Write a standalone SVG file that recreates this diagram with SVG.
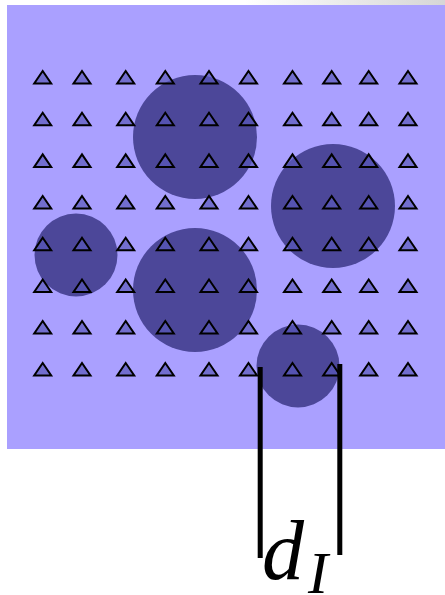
<svg xmlns="http://www.w3.org/2000/svg" xmlns:xlink="http://www.w3.org/1999/xlink" width="445" height="595" viewBox="0 0 445 595">
<defs>
<linearGradient id="topg" x1="0" y1="0" x2="1" y2="0">
<stop offset="0" stop-color="#ffffff"/>
<stop offset="0.55" stop-color="#ffffff"/>
<stop offset="1" stop-color="#d6d6d6"/>
</linearGradient>
<path id="tri" d="M0,0 L8.5,12.5 L-8.5,12.5 Z"/>
</defs>
<style>
.circ{fill:#4c4799}
.t use{fill:rgba(90,88,186,0.7);stroke:#000;stroke-width:2;stroke-linejoin:miter}
.bar{fill:#000}
.lab{font-family:"Liberation Serif","Times New Roman",serif;font-style:italic;fill:#000}
</style>
<rect x="0" y="0" width="445" height="595" fill="#ffffff"/>
<rect x="0" y="0" width="445" height="5" fill="url(#topg)"/>
<rect id="field" x="7" y="5" width="438" height="444" fill="#aaa0ff"/>
<g id="circles">
<circle id="c1" class="circ" cx="195" cy="137" r="62"/>
<circle id="c2" class="circ" cx="333" cy="206" r="62"/>
<circle id="c3" class="circ" cx="76" cy="255" r="41.5"/>
<circle id="c4" class="circ" cx="195" cy="290" r="62"/>
<circle id="c5" class="circ" cx="298" cy="366" r="41.5"/>
</g>
<g id="triangles" class="t">
<g id="row1" transform="translate(0,71)">
<use xlink:href="#tri" x="42.7"/><use xlink:href="#tri" x="82"/><use xlink:href="#tri" x="125.7"/><use xlink:href="#tri" x="165.3"/><use xlink:href="#tri" x="209"/><use xlink:href="#tri" x="248.5"/><use xlink:href="#tri" x="292.5"/><use xlink:href="#tri" x="331.7"/><use xlink:href="#tri" x="368.7"/><use xlink:href="#tri" x="408"/>
</g>
<g id="row2" transform="translate(0,112.7)">
<use xlink:href="#tri" x="42.7"/><use xlink:href="#tri" x="82"/><use xlink:href="#tri" x="125.7"/><use xlink:href="#tri" x="165.3"/><use xlink:href="#tri" x="209"/><use xlink:href="#tri" x="248.5"/><use xlink:href="#tri" x="292.5"/><use xlink:href="#tri" x="331.7"/><use xlink:href="#tri" x="368.7"/><use xlink:href="#tri" x="408"/>
</g>
<g id="row3" transform="translate(0,154.4)">
<use xlink:href="#tri" x="42.7"/><use xlink:href="#tri" x="82"/><use xlink:href="#tri" x="125.7"/><use xlink:href="#tri" x="165.3"/><use xlink:href="#tri" x="209"/><use xlink:href="#tri" x="248.5"/><use xlink:href="#tri" x="292.5"/><use xlink:href="#tri" x="331.7"/><use xlink:href="#tri" x="368.7"/><use xlink:href="#tri" x="408"/>
</g>
<g id="row4" transform="translate(0,196)">
<use xlink:href="#tri" x="42.7"/><use xlink:href="#tri" x="82"/><use xlink:href="#tri" x="125.7"/><use xlink:href="#tri" x="165.3"/><use xlink:href="#tri" x="209"/><use xlink:href="#tri" x="248.5"/><use xlink:href="#tri" x="292.5"/><use xlink:href="#tri" x="331.7"/><use xlink:href="#tri" x="368.7"/><use xlink:href="#tri" x="408"/>
</g>
<g id="row5" transform="translate(0,237.8)">
<use xlink:href="#tri" x="42.7"/><use xlink:href="#tri" x="82"/><use xlink:href="#tri" x="125.7"/><use xlink:href="#tri" x="165.3"/><use xlink:href="#tri" x="209"/><use xlink:href="#tri" x="248.5"/><use xlink:href="#tri" x="292.5"/><use xlink:href="#tri" x="331.7"/><use xlink:href="#tri" x="368.7"/><use xlink:href="#tri" x="408"/>
</g>
<g id="row6" transform="translate(0,279.5)">
<use xlink:href="#tri" x="42.7"/><use xlink:href="#tri" x="82"/><use xlink:href="#tri" x="125.7"/><use xlink:href="#tri" x="165.3"/><use xlink:href="#tri" x="209"/><use xlink:href="#tri" x="248.5"/><use xlink:href="#tri" x="292.5"/><use xlink:href="#tri" x="331.7"/><use xlink:href="#tri" x="368.7"/><use xlink:href="#tri" x="408"/>
</g>
<g id="row7" transform="translate(0,321)">
<use xlink:href="#tri" x="42.7"/><use xlink:href="#tri" x="82"/><use xlink:href="#tri" x="125.7"/><use xlink:href="#tri" x="165.3"/><use xlink:href="#tri" x="209"/><use xlink:href="#tri" x="248.5"/><use xlink:href="#tri" x="292.5"/><use xlink:href="#tri" x="331.7"/><use xlink:href="#tri" x="368.7"/><use xlink:href="#tri" x="408"/>
</g>
<g id="row8" transform="translate(0,363)">
<use xlink:href="#tri" x="42.7"/><use xlink:href="#tri" x="82"/><use xlink:href="#tri" x="125.7"/><use xlink:href="#tri" x="165.3"/><use xlink:href="#tri" x="209"/><use xlink:href="#tri" x="248.5"/><use xlink:href="#tri" x="292.5"/><use xlink:href="#tri" x="331.7"/><use xlink:href="#tri" x="368.7"/><use xlink:href="#tri" x="408"/>
</g>
</g>
<g id="dimension">
<rect class="bar" x="257.7" y="367" width="5" height="191"/>
<rect class="bar" x="337.3" y="364" width="5" height="191"/>
<text class="lab" x="262" y="579" font-size="84">d</text>
<text class="lab" x="308" y="593" font-size="60">I</text>
</g>
</svg>
